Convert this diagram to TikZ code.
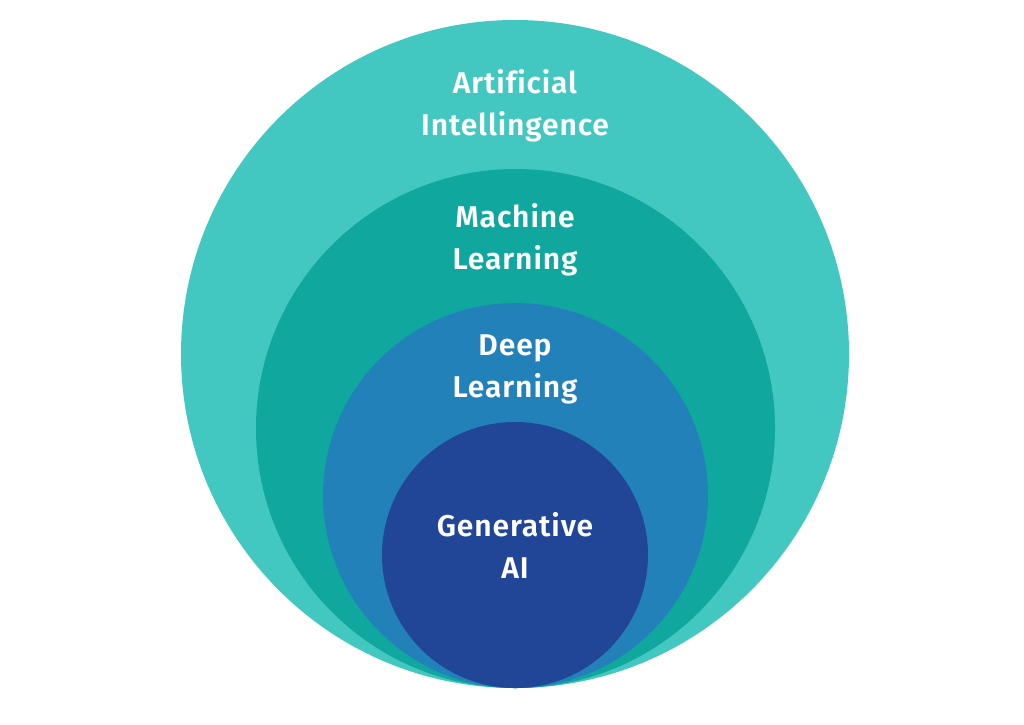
\documentclass[tikz,border=0pt]{standalone}
\usepackage{fontspec}
\setmainfont{Fira Sans SemiBold}[Ligatures={NoCommon},LetterSpace=3]
\definecolor{aiC}{HTML}{42C8C0}
\definecolor{mlC}{HTML}{10A89E}
\definecolor{dlC}{HTML}{2381BA}
\definecolor{gaC}{HTML}{214698}
\begin{document}
\begin{tikzpicture}[x=1pt,y=-1pt,
  ring/.style={circle,inner sep=0pt,draw=none},
  lbl/.style={text=white,align=center,anchor=base,inner sep=0pt,
    font=\fontsize{30}{41.5}\selectfont}]
\useasboundingbox (0,0) rectangle (1024,724);
\node[ring,fill=aiC,minimum size=668pt] (ai) at (515,354) {};
\node[ring,fill=mlC,minimum size=519pt] (ml) at (515.5,428.5) {};
\node[ring,fill=dlC,minimum size=385pt] (dl) at (515.5,495.5) {};
\node[ring,fill=gaC,minimum size=266pt] (ga) at (515,555) {};
\node[lbl] (tai) at (515,135) {Artificial\\Intellingence};
\node[lbl] (tml) at (515,269) {Machine\\Learning};
\node[lbl] (tdl) at (515,397) {Deep\\Learning};
\node[lbl] (tga) at (515,578) {Generative\\AI};
\end{tikzpicture}
\end{document}
